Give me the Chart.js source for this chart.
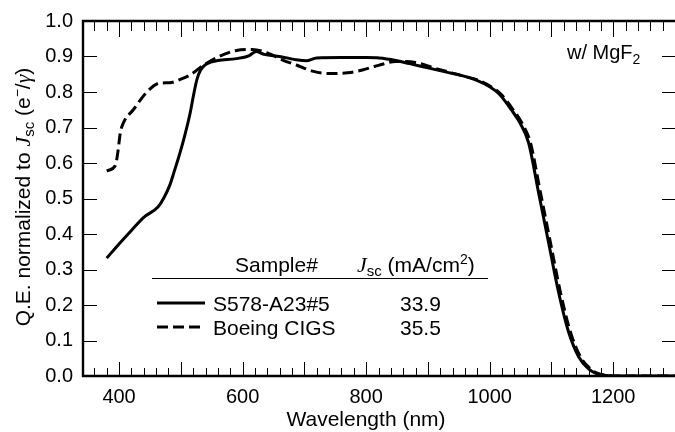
<!DOCTYPE html>
<html>
<head>
<meta charset="utf-8">
<script src="https://cdn.jsdelivr.net/npm/chart.js@4/dist/chart.umd.min.js"></script>
<style>
  html, body { margin: 0; padding: 0; background: #fff; }
  canvas { display: block; }
</style>
</head>
<body>
<canvas id="qeChart" width="675" height="432"></canvas>
<script>
// Data
const sampleNames = ['S578-A23#5', 'Boeing CIGS'];
const jscValues = ['33.9', '35.5'];

const s578Wavelength = [380, 400, 420, 440, 463, 472, 482, 490, 498, 506, 515, 521, 526, 532, 540, 550, 560, 590, 610, 622, 635, 660, 690, 703, 720, 760, 800, 821, 848, 870, 900, 930, 955, 980, 1000, 1015, 1035, 1050, 1063, 1079, 1095, 1111, 1127, 1144, 1160, 1171, 1185, 1200, 1250, 1300];
const s578QE = [0.332, 0.372, 0.41, 0.447, 0.476, 0.5, 0.537, 0.58, 0.625, 0.675, 0.74, 0.795, 0.835, 0.862, 0.877, 0.885, 0.889, 0.894, 0.902, 0.914, 0.906, 0.9, 0.89, 0.888, 0.896, 0.897, 0.897, 0.896, 0.889, 0.88, 0.868, 0.856, 0.846, 0.832, 0.815, 0.795, 0.75, 0.71, 0.657, 0.518, 0.379, 0.24, 0.128, 0.054, 0.02, 0.008, 0.002, 0, 0, 0];

const boeingWavelength = [380, 394, 398, 402, 407, 423, 445, 466, 482, 500, 515, 536, 558, 590, 616, 640, 665, 687, 715, 740, 770, 794, 820, 848, 880, 913, 955, 985, 1003, 1018, 1038, 1053, 1066, 1082, 1098, 1114, 1130, 1147, 1163, 1174, 1188, 1205, 1300];
const boeingQE = [0.578, 0.593, 0.63, 0.685, 0.713, 0.75, 0.8, 0.825, 0.826, 0.836, 0.848, 0.875, 0.897, 0.917, 0.92, 0.91, 0.89, 0.876, 0.858, 0.852, 0.854, 0.862, 0.875, 0.886, 0.883, 0.866, 0.846, 0.831, 0.814, 0.794, 0.75, 0.71, 0.657, 0.518, 0.379, 0.24, 0.128, 0.054, 0.02, 0.008, 0.002, 0, 0];

const xTickValues = [400, 600, 800, 1000, 1200];
const yTickValues = [0, 0.1, 0.2, 0.3, 0.4, 0.5, 0.6, 0.7, 0.8, 0.9, 1.0];

const SANS = '"Liberation Sans", Arial, Helvetica, sans-serif';
const SERIF = '"Liberation Serif", "Times New Roman", serif';

function partFont(p) {
  return (p.italic ? 'italic ' : '') + (p.size || 21) + 'px ' + (p.serif ? SERIF : SANS);
}

// draw a run of text pieces (sub/superscripts, italics) on one baseline
function drawRich(ctx, parts, x, y, align) {
  let total = 0;
  parts.forEach(p => {
    ctx.font = partFont(p);
    p.w = ctx.measureText(p.text).width;
    total += p.w;
  });
  let cx = align === 'center' ? x - total / 2 : x;
  ctx.textAlign = 'left';
  ctx.textBaseline = 'alphabetic';
  parts.forEach(p => {
    ctx.font = partFont(p);
    ctx.fillText(p.text, cx, y + (p.dy || 0));
    cx += p.w;
  });
}

const framePlugin = {
  id: 'frameAndLegend',
  afterDraw(chart) {
    const ctx = chart.ctx;
    const area = chart.chartArea;
    const xs = chart.scales.x;
    const ys = chart.scales.y;
    ctx.save();
    ctx.fillStyle = '#000';
    ctx.strokeStyle = '#000';

    // frame (left, top, bottom)
    ctx.lineWidth = 2.4;
    ctx.beginPath();
    ctx.moveTo(area.right + 2, area.top);
    ctx.lineTo(area.left + 1, area.top);
    ctx.lineTo(area.left + 1, area.bottom);
    ctx.lineTo(area.right + 2, area.bottom);
    ctx.stroke();

    // inward ticks
    ctx.lineWidth = 1;
    ctx.beginPath();
    for (let v = xs.min + 20; v < xs.max; v += 20) {
      const px = Math.round(xs.getPixelForValue(v)) + 0.5;
      const major = v % 100 === 0;
      ctx.moveTo(px, area.bottom);
      ctx.lineTo(px, area.bottom - (major ? 14 : 8));
      ctx.moveTo(px, area.top);
      ctx.lineTo(px, area.top + (major ? 16 : 10));
    }
    yTickValues.forEach(v => {
      if (v === 0 || v === 1) return;
      const py = Math.round(ys.getPixelForValue(v)) + 0.5;
      ctx.moveTo(area.left, py);
      ctx.lineTo(area.left + 15, py);
      ctx.moveTo(area.right, py);
      ctx.lineTo(area.right - 13, py);
    });
    ctx.stroke();

    // y axis title
    ctx.save();
    ctx.translate(22, 197);
    ctx.rotate(-Math.PI / 2);
    drawRich(ctx, [
      { text: 'Q.E. normalized to ' },
      { text: 'J', italic: true, serif: true, size: 22 },
      { text: 'sc', size: 15, dy: 4 },
      { text: ' (e' },
      { text: '\u2212', size: 14, dy: -8 },
      { text: '/' },
      { text: '\u03b3', italic: true, serif: true, size: 22 },
      { text: ')' }
    ], 0, 7.5, 'center');
    ctx.restore();

    // x axis title
    drawRich(ctx, [{ text: 'Wavelength (nm)' }], 366, 425.5, 'center');

    // annotation
    drawRich(ctx, [
      { text: 'w/ MgF', size: 20 },
      { text: '2', size: 14, dy: 5 }
    ], 567, 59, 'left');

    // legend table
    drawRich(ctx, [{ text: 'Sample#' }], 235, 272, 'left');
    drawRich(ctx, [
      { text: 'J', italic: true, serif: true, size: 22 },
      { text: 'sc', size: 15, dy: 4 },
      { text: ' (mA/cm' },
      { text: '2', size: 14, dy: -8 },
      { text: ')' }
    ], 357, 272, 'left');
    ctx.lineWidth = 1;
    ctx.beginPath();
    ctx.moveTo(152, 278.5);
    ctx.lineTo(488, 278.5);
    ctx.stroke();

    const rowY = [303, 327];
    chart.data.datasets.forEach((ds, i) => {
      ctx.lineWidth = ds.borderWidth;
      ctx.setLineDash(ds.borderDash || []);
      ctx.beginPath();
      ctx.moveTo(157, rowY[i]);
      ctx.lineTo(205, rowY[i]);
      ctx.stroke();
      ctx.setLineDash([]);
      drawRich(ctx, [{ text: sampleNames[i] }], 213, rowY[i] + 7.5, 'left');
      drawRich(ctx, [{ text: jscValues[i] }], 400, rowY[i] + 7.5, 'left');
    });

    ctx.restore();
  }
};

const toPoints = (xs, ys) => xs.map((x, i) => ({ x: x, y: ys[i] }));

const chartData = {
  datasets: [
    {
      label: sampleNames[0],
      data: toPoints(s578Wavelength, s578QE),
      borderColor: '#000',
      borderWidth: 3,
      pointRadius: 0,
      cubicInterpolationMode: 'monotone',
      fill: false
    },
    {
      label: sampleNames[1],
      data: toPoints(boeingWavelength, boeingQE),
      borderColor: '#000',
      borderWidth: 3,
      borderDash: [11, 5],
      pointRadius: 0,
      cubicInterpolationMode: 'monotone',
      fill: false
    }
  ]
};

const chartConfig = {
  type: 'line',
  data: chartData,
  options: {
    responsive: false,
    animation: false,
    devicePixelRatio: 1,
    layout: { padding: { top: 17, right: 0, left: 0, bottom: 0 } },
    plugins: {
      legend: { display: false },
      tooltip: { enabled: false }
    },
    scales: {
      x: {
        type: 'linear',
        min: 340,
        max: 1300,
        grid: { display: false, drawTicks: false },
        border: { display: false },
        afterBuildTicks: s => { s.ticks = xTickValues.map(v => ({ value: v })); },
        afterFit: s => { s.height = 56; },
        ticks: {
          color: '#000',
          padding: 9,
          maxRotation: 0,
          font: { family: SANS, size: 20 },
          callback: v => String(v)
        }
      },
      y: {
        type: 'linear',
        min: 0,
        max: 1,
        grid: { display: false, drawTicks: false },
        border: { display: false },
        afterBuildTicks: s => { s.ticks = yTickValues.map(v => ({ value: v })); },
        afterFit: s => { s.width = 82; },
        ticks: {
          color: '#000',
          padding: 9,
          font: { family: SANS, size: 20 },
          callback: v => v.toFixed(1)
        }
      }
    }
  },
  plugins: [framePlugin]
};

const ctx = document.getElementById('qeChart').getContext('2d');
new Chart(ctx, chartConfig);
</script>
</body>
</html>
